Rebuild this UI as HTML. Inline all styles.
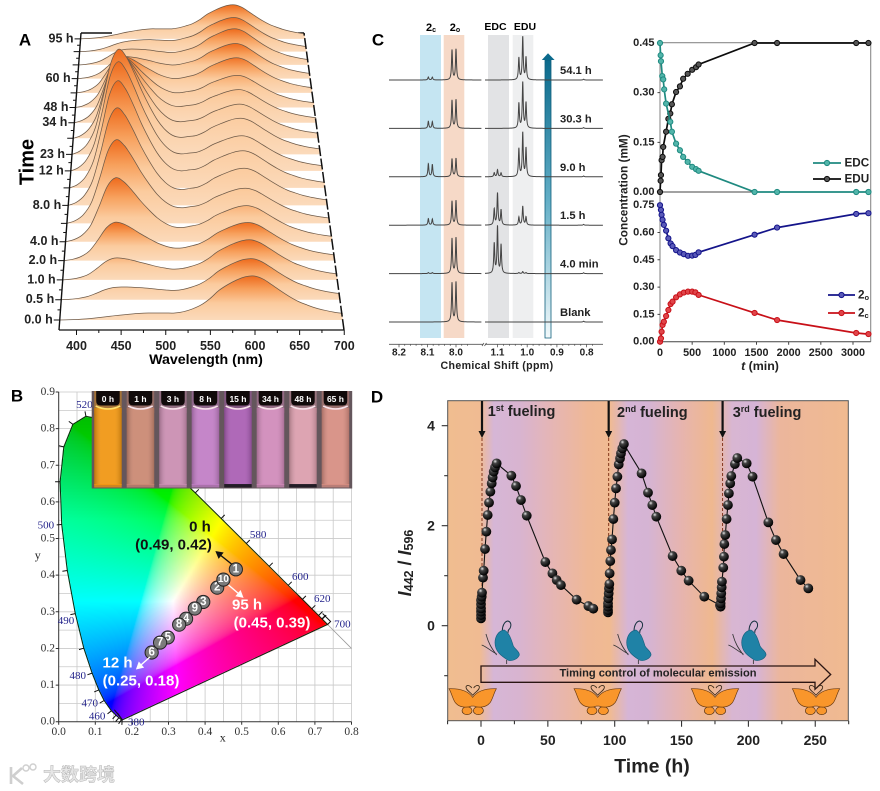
<!DOCTYPE html>
<html><head><meta charset="utf-8"><title>Timing control of molecular emission</title>
<style>
html,body{margin:0;padding:0;background:#fff;width:880px;height:791px;overflow:hidden}
#stage{position:relative;width:880px;height:791px}
svg,canvas{position:absolute;left:0;top:0}
text{font-family:"Liberation Sans","Noto Sans CJK SC",sans-serif;dominant-baseline:central}
.b{font-weight:bold}
.serif{font-family:"Liberation Serif",serif}
</style></head>
<body>
<div id="stage">
<svg id="under" width="880" height="791"></svg>
<canvas id="cie" width="296" height="333" style="left:58px;top:390px"></canvas>
<svg id="top" width="880" height="791">
<defs>
<radialGradient id="ball" cx="35%" cy="30%" r="70%"><stop offset="0" stop-color="#e8e8e8"/><stop offset=".3" stop-color="#444"/><stop offset="1" stop-color="#000"/></radialGradient>
<linearGradient id="curveFill" x1="0" y1="0" x2="0" y2="1"><stop offset="0" stop-color="#ee6a1c"/><stop offset=".3" stop-color="#f7a05c"/><stop offset=".62" stop-color="#fbcb9e"/><stop offset="1" stop-color="#fbdabb"/></linearGradient>
<linearGradient id="vialSheen" x1="0" y1="0" x2="1" y2="0"><stop offset="0" stop-color="#000" stop-opacity=".22"/><stop offset=".25" stop-color="#fff" stop-opacity=".08"/><stop offset=".75" stop-color="#fff" stop-opacity=".08"/><stop offset="1" stop-color="#000" stop-opacity=".18"/></linearGradient>
<linearGradient id="arrowGrad" x1="0" y1="1" x2="0" y2="0"><stop offset="0" stop-color="#f2f9fb"/><stop offset=".5" stop-color="#62aec6"/><stop offset="1" stop-color="#0b6a8c"/></linearGradient>
<linearGradient id="dBack" x1="0" y1="0" x2="1" y2="0">
<stop offset="0" stop-color="#f0bd90"/><stop offset=".08" stop-color="#f0bb92"/><stop offset=".115" stop-color="#d6b6d6"/><stop offset=".18" stop-color="#d8b4d0"/><stop offset=".25" stop-color="#e4b5b8"/><stop offset=".35" stop-color="#efb896"/><stop offset=".405" stop-color="#f0ba92"/><stop offset=".45" stop-color="#d6b5d6"/><stop offset=".5" stop-color="#d5b4d4"/><stop offset=".58" stop-color="#e6b4b0"/><stop offset=".66" stop-color="#efb88f"/><stop offset=".71" stop-color="#d8b6d2"/><stop offset=".77" stop-color="#d6b4d6"/><stop offset=".83" stop-color="#ecb69c"/><stop offset="1" stop-color="#f0ba90"/></linearGradient>
<g id="blue-fly" transform="scale(.3333)">
<path d="M22,32C22,18 28,5 38,3C48,5 50,15 45,25C40,30 38,33 40,38" fill="none" stroke="#16303f" stroke-width="3"/>
<path d="M0,68C0,50 10,32 28,30C42,38 48,55 55,78C62,90 74,95 73,105C68,118 50,125 38,120C20,108 0,95 0,68Z" fill="#1f82a6" stroke="#17617e" stroke-width="2"/>
<path d="M5,102C-10,95 -25,80 -40,75M5,105C-10,85 -20,70 -27,42M35,120V132" fill="none" stroke="#333" stroke-width="2.5"/>
</g>
<g id="orange-fly" transform="scale(.3333)">
<ellipse cx="-17" cy="42" rx="15" ry="12" fill="#f9962b" stroke="#4a2a10" stroke-width="2"/>
<ellipse cx="17" cy="42" rx="15" ry="12" fill="#f9962b" stroke="#4a2a10" stroke-width="2"/>
<path d="M0,2C-14,-18 -42,-25 -71,-24C-62,-8 -58,14 -50,20C-40,32 -18,34 -4,28L4,28C18,34 40,32 50,20C58,14 62,-8 71,-24C42,-25 14,-18 0,2Z" fill="#f9962b" stroke="#6a3a10" stroke-width="2"/>
<path d="M0,-4C-6,-14 -22,-20 -20,-30C-16,-38 -6,-32 -3,-26M0,-4C6,-14 22,-20 20,-30C16,-38 6,-32 3,-26" fill="none" stroke="#3a2a1a" stroke-width="2.5"/>
</g>
</defs>

<g id="panelA">
<text class="b" x="25" y="40" font-size="17" text-anchor="middle">A</text>
<text class="b" x="27.5" y="162" font-size="20" text-anchor="middle" transform="rotate(-90 27.5 162)">Time</text>
<text class="b" x="206" y="360" font-size="14.2" text-anchor="middle">Wavelength (nm)</text>
</g>

<g id="panelB">
<text class="b" x="17" y="396" font-size="17" text-anchor="middle">B</text>
<text class="serif" x="37.7" y="555" font-size="12" text-anchor="middle" fill="#222">y</text>
<text class="serif" x="222.7" y="737.5" font-size="12" text-anchor="middle" fill="#222">x</text>
</g>

<g id="panelC">
<text class="b" x="378" y="40" font-size="17" text-anchor="middle">C</text>
<rect x="420" y="35" width="21" height="303" fill="#c5e5f2"/>
<rect x="443.7" y="35" width="20.6" height="303" fill="#f6d9c7"/>
<rect x="488" y="35" width="21" height="303" fill="#e2e3e5"/>
<rect x="512.7" y="35" width="20.6" height="303" fill="#eeeff0"/>
<text class="b" x="431" y="28" font-size="11" text-anchor="middle">2<tspan font-size="7" dy="2">c</tspan></text>
<text class="b" x="455" y="28" font-size="11" text-anchor="middle">2<tspan font-size="7" dy="2">o</tspan></text>
<text class="b" x="495.5" y="27" font-size="10.5" text-anchor="middle">EDC</text>
<text class="b" x="525" y="27" font-size="10.5" text-anchor="middle">EDU</text>
<path d="M545,60H551V338H545Z" fill="url(#arrowGrad)" stroke="#0f5f7c" stroke-width=".8"/>
<path d="M541.8,60L548,53.3L554.6,60Z" fill="#0b6a8c"/>
<text class="b" x="497" y="366" font-size="10.6" letter-spacing=".35" text-anchor="middle" fill="#222">Chemical Shift (ppm)</text>

<text class="b" x="623.5" y="190" font-size="11.8" text-anchor="middle" transform="rotate(-90 623.5 190)" fill="#222">Concentration (mM)</text>
<text class="b" x="760" y="366" font-size="12.4" text-anchor="middle" fill="#222"><tspan font-style="italic">t</tspan> (min)</text>
<text class="b" x="844.5" y="163" font-size="11.7" fill="#222">EDC</text>
<text class="b" x="844.5" y="179" font-size="11.7" fill="#222">EDU</text>
<text class="b" x="858" y="295" font-size="11.7" fill="#222">2<tspan font-size="7.5" dy="2">o</tspan></text>
<text class="b" x="858" y="313" font-size="11.7" fill="#222">2<tspan font-size="7.5" dy="2">c</tspan></text>
</g>

<g id="panelD">
<text class="b" x="377" y="397" font-size="17" text-anchor="middle">D</text>
<rect x="447.7" y="400.7" width="400.6" height="320" fill="url(#dBack)" stroke="#555" stroke-width="1"/>
<use href="#blue-fly" transform="translate(495,620)"/>
<use href="#blue-fly" transform="translate(626.7,620)"/>
<use href="#blue-fly" transform="translate(741.7,620)"/>
<path d="M481,666H815V659.3L830.7,674.5L815,689.3V682.3H481Z" fill="none" stroke="#2a1512" stroke-width="1.3"/>
<text class="b" x="658" y="673.5" font-size="11.1" text-anchor="middle" fill="#222">Timing control of molecular emission</text>
<use href="#orange-fly" transform="translate(472.7,696.7)"/>
<use href="#orange-fly" transform="translate(597.7,696.7)"/>
<use href="#orange-fly" transform="translate(715,696.7)"/>
<use href="#orange-fly" transform="translate(816,696.7)"/>
<text class="b" x="487.7" y="412" font-size="14.5" fill="#222">1<tspan font-size="9" dy="-4">st</tspan><tspan dy="4"> fueling</tspan></text>
<text class="b" x="617" y="413" font-size="14.5" fill="#222">2<tspan font-size="9" dy="-4">nd</tspan><tspan dy="4"> fueling</tspan></text>
<text class="b" x="732.7" y="413" font-size="14.5" fill="#222">3<tspan font-size="9" dy="-4">rd</tspan><tspan dy="4"> fueling</tspan></text>
<text class="b" x="652" y="766.5" font-size="19.5" text-anchor="middle" fill="#222">Time (h)</text>
<text class="b" x="405" y="563" font-size="18" text-anchor="middle" transform="rotate(-90 405 563)" fill="#222"><tspan font-style="italic">I</tspan><tspan font-size="12.5" dy="4">442</tspan><tspan dy="-4"> / </tspan><tspan font-style="italic">I</tspan><tspan font-size="12.5" dy="4">596</tspan></text>
</g>

<g id="watermark">
<path d="M11,767V784M22,768L13,776L23,784" fill="none" stroke="#cfcfcf" stroke-width="2.6"/>
<circle cx="26" cy="768" r="3" fill="none" stroke="#cfcfcf" stroke-width="1.4"/>
<circle cx="33" cy="767" r="3" fill="none" stroke="#cfcfcf" stroke-width="1.4"/>
<text x="43" y="775" font-size="18" font-weight="bold" fill="#e6e6e6" stroke="#b8b8b8" stroke-width=".5" style='font-family:"Liberation Sans","Noto Sans CJK SC",sans-serif'>大数跨境</text>
</g>
</svg>
</div>

<script>
/* ---------- Panel A data ---------- */
const spectrumWavelengths=[380,390,400,410,420,430,440,450,460,470,480,490,500,510,520,530,540,550,560,570,580,590,600,610,620,630,640,650,660,670,680,690,700];
const blueBandShape=[0,.03,.10,.25,.55,.88,1,.90,.72,.52,.35,.21,.11,.05,.02,.01,0,0,0,0,0,0,0,0,0,0,0,0,0,0,0,0,0];
const orangeBandShape=[0,0,0,0,0,0,0,0,0,0,0,0,0,0,.03,.10,.22,.40,.62,.78,.90,.98,1,.93,.80,.66,.53,.42,.34,.27,.22,.18,.15];
const broadBandShape=[0,.03,.08,.16,.28,.42,.58,.72,.84,.94,1,1,1,1,1,.95,.78,.55,.32,.15,.06,.02,0,0,0,0,0,0,0,0,0,0,0];
const timeRowLabels=['0.0 h','0.5 h','1.0 h','2.0 h','4.0 h','','8.0 h','','12 h','23 h','','34 h','48 h','','60 h','','','95 h'];
const blueBandAmp=[0,7,16,32,57,76,90,99,101,97,78,60,44,29,14,8,3,0];
const orangeBandAmp=[44,41,40,38,36,35,37,37,35,36,34,33,32,35,35,36,34,34];
const broadBandAmp=[7,9,10,11,12,13,13,14,14,14,14,14,13,13,13,12,11,10];
const wavelengthTicks=[400,450,500,550,600,650,700];

/* ---------- Panel B data ---------- */
const locusWavelengths=[380,400,420,440,450,460,470,475,480,485,490,495,500,505,510,515,520,525,530,540,550,560,570,580,590,600,610,620,640,700];
const locusX=[.1741,.1733,.1714,.1644,.1566,.1440,.1241,.1096,.0913,.0687,.0454,.0235,.0082,.0039,.0139,.0389,.0743,.1142,.1547,.2296,.3016,.3731,.4441,.5125,.5752,.6270,.6658,.6915,.7190,.7347];
const locusY=[.0050,.0048,.0051,.0109,.0177,.0297,.0578,.0868,.1327,.2007,.2950,.4127,.5384,.6548,.7502,.8120,.8338,.8262,.8059,.7543,.6923,.6245,.5547,.4866,.4242,.3725,.3340,.3083,.2809,.2653];
const locusLabels=['460','470','480','490','500','520','580','600','620','700','380'];
const cieX=[.484,.433,.395,.348,.298,.254,.277,.329,.372,.450];
const cieY=[.416,.366,.327,.281,.230,.189,.216,.265,.309,.388];
const cieOrder=['1','2','3','4','5','6','7','8','9','10'];
const cieXTicks=[0,.1,.2,.3,.4,.5,.6,.7,.8];
const cieYTicks=[0,.1,.2,.3,.4,.5,.6,.7,.8,.9];
const vialLabels=['0 h','1 h','3 h','8 h','15 h','34 h','48 h','65 h'];
const vialColors=['#f0950f','#c98670','#c98cb0','#c07cc4','#a85cb2','#cf88b8','#da9cab','#d68c80'];

/* ---------- Panel C data ---------- */
const nmrLabels=['54.1 h','30.3 h','9.0 h','1.5 h','4.0 min','Blank'];
const amp2c=[3,7,13,6.5,1,0];
const amp2o=[30,28,18,24,35,39];
const ampEdcOuter=[0,0,4,16,30,0];
const ampEdcCentre=[0,0,7,32,47,0];
const ampEduOuter=[22,25,28,8,1,0];
const ampEduCentre=[43,46,44,19,2,0];
const ppmLeftTicks=[8.2,8.1,8.0];
const ppmRightTicks=[1.1,1.0,0.9,0.8];

const edcTimes=[0,10,15,35,50,65,95,160,185,250,310,360,430,500,560,600,1470,1820,3050,3240];
const edcValues=[.45,.413,.395,.35,.34,.31,.267,.212,.182,.146,.126,.106,.091,.076,.069,.064,0,0,0,0];
const eduTimes=[0,10,15,25,40,50,95,130,160,185,250,310,360,430,500,560,600,1470,1820,3050,3240];
const eduValues=[0,.034,.051,.096,.106,.136,.182,.221,.237,.265,.302,.319,.342,.357,.369,.377,.385,.45,.45,.45,.45];
const openTimes=[0,15,25,40,60,95,130,165,195,250,310,370,435,500,550,600,1470,1820,3050,3240];
const openValues=[.75,.724,.697,.67,.642,.61,.568,.54,.525,.503,.49,.481,.472,.473,.477,.491,.588,.627,.702,.706];
const closedValues=[0,.018,.055,.092,.11,.141,.174,.207,.22,.244,.26,.27,.275,.275,.271,.257,.158,.119,.048,.042];
const timeTicks=[0,500,1000,1500,2000,2500,3000];
const topConcTicks=[0,.15,.3,.45];
const lowConcTicks=[0,.15,.3,.45,.6,.75];

/* ---------- Panel D data ---------- */
const cycle1Times=[0,0,0,0,0,0,.5,.75,1.5,2,3,4,5,6,7,8,8.7,9.5,10.5,11.7,22.7,26.2,29.9,34.2,48.1,53.4,56.6,59.8,71.5,80.3,84];
const cycle1Ratio=[.147,.213,.28,.347,.433,.513,.58,.66,.96,1.1,1.533,1.88,2.213,2.46,2.68,2.847,2.967,3.08,3.167,3.247,3,2.793,2.513,2.2,1.273,1.047,.913,.813,.52,.393,.34];
const cycle2Times=[95,95,95,95,95.2,95.5,95.7,96,96.2,96.7,97.2,98,99,100,101,102,103,104,104.7,105.7,106.9,120.1,124.9,128.1,131.1,143.3,149.8,155.3,167,178.7];
const cycle2Ratio=[.267,.313,.38,.447,.547,.647,.747,.833,1.047,1.293,1.513,1.727,2.133,2.46,2.747,2.98,3.227,3.347,3.447,3.547,3.633,3.047,2.66,2.413,2.18,1.393,1.1,.9,.58,.413];
const cycle3Times=[179.2,179.2,179.5,179.7,180,180.2,181.2,181.7,182,182.7,183.7,184.7,185.4,186.4,187.2,189.9,191.7,198.7,203.1,214.9,220.6,226.3,239,244.8];
const cycle3Ratio=[.38,.447,.547,.647,.767,.88,1.16,1.38,1.633,1.813,2.133,2.413,2.647,2.847,2.993,3.233,3.353,3.247,2.98,2.067,1.713,1.433,.913,.747];
const fuelTimes=[.75,95.5,180.7];
const fuelEndRatio=[.65,.85,.9];
const hourTicks=[0,50,100,150,200,250];
const ratioTicks=[0,2,4];

const NS='http://www.w3.org/2000/svg';
function make(parent,tag,attrs,txt){
  const n=document.createElementNS(NS,tag);
  for(const k in attrs)n.setAttribute(k,attrs[k]);
  if(txt!==undefined)n.textContent=txt;
  parent.appendChild(n);
  return n;
}
function smooth(pts){
  let d='M'+pts[0][0].toFixed(2)+','+pts[0][1].toFixed(2);
  for(let i=0;i<pts.length-1;i++){
    const p0=pts[Math.max(i-1,0)],p1=pts[i],p2=pts[i+1],p3=pts[Math.min(i+2,pts.length-1)];
    d+='C'+(p1[0]+(p2[0]-p0[0])/6).toFixed(2)+','+(p1[1]+(p2[1]-p0[1])/6).toFixed(2)+' '+(p2[0]-(p3[0]-p1[0])/6).toFixed(2)+','+(p2[1]-(p3[1]-p1[1])/6).toFixed(2)+' '+p2[0].toFixed(2)+','+p2[1].toFixed(2);
  }
  return d;
}

/* ---------- Panel A ---------- */
(function(){
  const g=document.getElementById('panelA');
  const rowY=i=>320-20.5*i+.233*i*i;
  const leftX=y=>59+(330-y)*22/297;
  const rightX=y=>344-(330-y)*40/297;
  const axX=w=>76.5+(w-400)*.8925;
  const topLine=make(g,'path',{d:'M81,33H112M298,33H304',stroke:'#111','stroke-width':1.4,fill:'none'});
  
  
  for(let i=timeRowLabels.length-1;i>=0;i--){
    const y=rowY(i),l=leftX(y),r=rightX(y);
    const pts=spectrumWavelengths.map((w,k)=>{
      const h=blueBandShape[k]*blueBandAmp[i]+orangeBandShape[k]*orangeBandAmp[i]+broadBandShape[k]*broadBandAmp[i];
      return [l+(w-380)/320*(r-l),y-h];
    });
    const line=smooth(pts);
    const fill=make(g,'path',{d:line+'L'+r+','+y+'L'+l+','+y+'Z',fill:'url(#curveFill)'});
    
    
    const stroke=make(g,'path',{d:line,fill:'none',stroke:'#6e5a48','stroke-width':.75});
    
    
  }
  const spines=make(g,'path',{d:'M59,330L81,33',stroke:'#111','stroke-width':1.4,fill:'none'});
  
  
  const rs=make(g,'path',{d:'M344,330L304,33',stroke:'#111','stroke-width':1.5,fill:'none','stroke-dasharray':'11 2.5'});
  
  
  const bs=make(g,'path',{d:'M59,330H344',stroke:'#111','stroke-width':1.3,fill:'none'});
  
  
  let tk='';
  for(let w=400;w<=700;w+=25){tk+='M'+axX(w)+',330V'+(330+(w%50?3:5));}
  timeRowLabels.forEach((s,i)=>{const y=rowY(i),x=leftX(y);tk+='M'+x+','+y+'H'+(x-6);
    if(i<17){const y2=(y+rowY(i+1))/2,x2=leftX(y2);tk+='M'+x2+','+y2+'H'+(x2-3);}});
  const t=make(g,'path',{d:tk,stroke:'#111','stroke-width':1,fill:'none'});
  
  
  wavelengthTicks.forEach(w=>{
    const n=make(g,'text',{x:axX(w),y:346,'font-size':12.5,'font-weight':'bold','text-anchor':'middle',fill:'#222'},String(w));
    
    
  });
  timeRowLabels.forEach((s,i)=>{
    if(!s)return;
    const y=rowY(i);
    const n=make(g,'text',{x:leftX(y)-7,y:y-.5,'font-size':12.5,'font-weight':'bold','text-anchor':'end',fill:'#222'},s);
    
    
  });
})();

/* ---------- Panel B ---------- */
const cx=v=>58.7+v*366;
const cy=v=>721.7-v*366.3;
(function(){
  const u=document.getElementById('under');
  let d='';
  for(let i=1;i<=16;i++){d+='M'+cx(i*.05)+','+cy(0)+'V'+cy(.9);}
  for(let i=1;i<=18;i++){d+='M'+cx(0)+','+cy(i*.05)+'H'+cx(.8);}
  const grid=make(u,'path',{d:d,stroke:'#c9c9c9','stroke-width':.8,fill:'none'});
  
  
  const diag=make(u,'path',{d:'M'+cx(.7347)+','+cy(.2653)+'L'+cx(.8)+','+cy(.2),stroke:'#999','stroke-width':.8});
  
  
  const ax=make(u,'path',{d:'M'+cx(0)+','+cy(.9)+'V'+cy(0)+'H'+cx(.8),stroke:'#333','stroke-width':1,fill:'none'});
  
  

  /* gamut */
  const cv=document.getElementById('cie'),c=cv.getContext('2d'),img=c.createImageData(cv.width,cv.height);
  const poly=locusX.map((x,i)=>[x,locusY[i]]);
  const inside=(x,y)=>{let k=false;for(let i=0,j=poly.length-1;i<poly.length;j=i++){
    if((poly[i][1]>y)!==(poly[j][1]>y)&&x<(poly[j][0]-poly[i][0])*(y-poly[i][1])/(poly[j][1]-poly[i][1])+poly[i][0])k=!k;}return k;};
  const gam=v=>v<=.0031308?12.92*v:1.055*Math.pow(v,1/2.4)-.055;
  for(let py=0;py<cv.height;py++)for(let px=0;px<cv.width;px++){
    const X=(px+58.5-58.7)/366,Y=(721.7-(py+390.5))/366.3;
    if(Y<=0||!inside(X,Y))continue;
    const a=X/Y,b=1,e=(1-X-Y)/Y;
    let R=3.2406*a-1.5372*b-.4986*e,G=-.9689*a+1.8758*b+.0415*e,B=.0557*a-.2040*b+1.0570*e;
    R=Math.max(R,0);G=Math.max(G,0);B=Math.max(B,0);
    const m=Math.max(R,G,B);R/=m;G/=m;B/=m;
    const dim=Y>.55?1-(Y-.55)*.9:1;
    const o=(py*cv.width+px)*4;
    img.data[o]=255*gam(R)*dim;img.data[o+1]=255*gam(G)*dim;img.data[o+2]=255*gam(B)*dim;img.data[o+3]=255;
  }
  c.putImageData(img,0,0);

  const g=document.getElementById('panelB');
  const outline=poly.map((p,i)=>(i?'L':'M')+cx(p[0]).toFixed(1)+','+cy(p[1]).toFixed(1)).join('')+'Z';
  const ol=make(g,'path',{d:outline,fill:'none',stroke:'#0c2a0c','stroke-width':1});
  
  
  let t='';
  locusWavelengths.forEach((w,i)=>{
    if(i===0||i===locusWavelengths.length-1)return;
    const a=[cx(locusX[i-1]),cy(locusY[i-1])],b=[cx(locusX[i+1]),cy(locusY[i+1])],p=[cx(locusX[i]),cy(locusY[i])];
    let nx=b[1]-a[1],ny=a[0]-b[0];const L=Math.hypot(nx,ny)||1;nx/=L;ny/=L;
    t+='M'+p[0].toFixed(1)+','+p[1].toFixed(1)+'l'+(nx*5).toFixed(1)+','+(ny*5).toFixed(1);
  });
  t+='M'+cx(.1741)+','+cy(.005)+'l-8,-10M'+cx(.1741)+','+cy(.005)+'l-5,-7M'+cx(.7347)+','+cy(.2653)+'l3,-3l-8,-8M'+cx(.72)+','+cy(.28)+'l4,-4M'+cx(.71)+','+cy(.29)+'l4,-4';
  const ticks=make(g,'path',{d:t,stroke:'#111','stroke-width':1,fill:'none'});
  
  
  let at='';
  cieXTicks.forEach(v=>{at+='M'+cx(v)+','+cy(0)+'v3';});
  cieYTicks.forEach(v=>{at+='M'+cx(0)+','+cy(v)+'h-3';});
  const aticks=make(g,'path',{d:at,stroke:'#333','stroke-width':1,fill:'none'});
  
  
  cieXTicks.forEach(v=>{
    const n=make(g,'text',{x:cx(v),y:732,'font-size':11.5,'text-anchor':'middle',fill:'#333',class:'serif'},v.toFixed(1));
    
    
  });
  cieYTicks.forEach(v=>{
    const n=make(g,'text',{x:55,y:cy(v),'font-size':11.5,'text-anchor':'end',fill:'#333',class:'serif'},v.toFixed(1));
    
    
  });
  const locusLabelX=[.105,.085,.052,.02,-.035,.07,.545,.66,.72,.775,.212];
  const locusLabelY=[.014,.05,.125,.275,.535,.865,.51,.395,.335,.265,-.002];
  locusLabels.forEach((s,i)=>{
    const n=make(g,'text',{x:cx(locusLabelX[i]),y:cy(locusLabelY[i]),'font-size':11,'text-anchor':'middle',fill:'#23238b',class:'serif'},s);
    
    
  });

  /* photo strip */
  const vw=32.5;
  vialLabels.forEach((s,i)=>{
    const x=91.7+i*vw;
    const base=make(g,'rect',{x:x,y:391,width:vw+.5,height:97.5,fill:'#64565c'});
    
    
    const flank=make(g,'rect',{x:x+2.5,y:391,width:vw-5,height:22,fill:vialColors[i],opacity:.45});
    
    
    const liquid=make(g,'rect',{x:x+2.5,y:408,width:vw-5,height:77,fill:vialColors[i]});
    
    
    const sheen=make(g,'rect',{x:x+2.5,y:408,width:vw-5,height:77,fill:'url(#vialSheen)'});
    
    
    const foot=make(g,'rect',{x:x+2.5,y:484,width:vw-5,height:3.5,fill:(i===4||i===6)?'#1c1620':vialColors[i],opacity:(i===4||i===6)?.9:.75});
    
    
    const cap=make(g,'path',{d:'M'+(x+4.5)+',391H'+(x+vw-4.5)+'V401Q'+(x+vw-4.5)+',405.5 '+(x+vw-9)+',405.5H'+(x+9)+'Q'+(x+4.5)+',405.5 '+(x+4.5)+',401Z',fill:'#100a0a'});
    
    
    const men=make(g,'path',{d:'M'+(x+4)+',406Q'+(x+vw/2)+',412 '+(x+vw-4)+',406',fill:'none',stroke:i===0?'#ffe06a':'#f6e0e8','stroke-width':1.6});
    
    
    const n=make(g,'text',{x:x+vw/2,y:399,'font-size':8.5,'font-weight':'bold','text-anchor':'middle',fill:'#fff'},s);
    
    
  });

  /* CIE points and arrows */
  const arr=(x1,y1,x2,y2,col,nm)=>{
    const a=Math.atan2(y2-y1,x2-x1),h=6;
    const p=make(g,'path',{d:'M'+x1+','+y1+'L'+x2+','+y2+'M'+x2+','+y2+'L'+(x2-h*Math.cos(a-.5))+','+(y2-h*Math.sin(a-.5))+'L'+(x2-h*Math.cos(a+.5))+','+(y2-h*Math.sin(a+.5))+'Z',stroke:col,fill:col,'stroke-width':1.4});
    
    
  };
  cieOrder.forEach((s,i)=>{
    const c1=make(g,'circle',{cx:cx(cieX[i]),cy:cy(cieY[i]),r:6.6,fill:'#7b7b7b',stroke:'#222','stroke-width':1});
    
    
    const n=make(g,'text',{x:cx(cieX[i]),y:cy(cieY[i]),'font-size':s.length>1?10:11.5,'font-weight':'bold','text-anchor':'middle',fill:'#fff'},s);
    
    
  });
  arr(231.5,564,216.5,552,'#111','arrow-0h');
  arr(228.5,585,242.5,597,'#fff','arrow-95h');
  arr(150,657,137,668.5,'#fff','arrow-12h');
  const labels=[['0 h',200,527,'#111',15],['(0.49, 0.42)',173.5,545,'#111',15],['95 h',247,605,'#fff',15],['(0.45, 0.39)',272,623,'#fff',15],['12 h',117.5,663,'#fff',15],['(0.25, 0.18)',141,681,'#fff',15]];
  labels.forEach(l=>{
    const n=make(g,'text',{x:l[1],y:l[2],'font-size':l[4],'font-weight':'bold','text-anchor':'middle',fill:l[3]},l[0]);
    
    
  });
})();

/* ---------- Panel C ---------- */
(function(){
  const g=document.getElementById('panelC');
  const lx=p=>399+(8.2-p)*285;
  const rx=p=>497.5+(1.1-p)*297;
  const row=i=>80+i*48.4;
  const peaks=(x,list)=>list.reduce((s,k)=>s+k[1]/(1+Math.pow((x-k[0])/.58,2)),0);
  nmrLabels.forEach((s,i)=>{
    const y=row(i);
    const leftPeaks=[[lx(8.097),amp2c[i]],[lx(8.083),amp2c[i]*.95],[lx(8.014),amp2o[i]],[lx(8.0),amp2o[i]*1.03]];
    const rightPeaks=[[rx(1.111),ampEdcOuter[i]],[rx(1.1),ampEdcCentre[i]],[rx(1.088),ampEdcOuter[i]*.95],[rx(1.028),ampEduOuter[i]],[rx(1.015),ampEduCentre[i]],[rx(1.004),ampEduOuter[i]*1.02],[rx(.81),.8]];
    let d='';
    for(let x=389;x<=481.5;x+=.15)d+=(x===389?'M':'L')+x.toFixed(2)+','+(y-peaks(x,leftPeaks)).toFixed(2);
    for(let x=485;x<=603;x+=.15)d+=(x===485?'M':'L')+x.toFixed(2)+','+(y-peaks(x,rightPeaks)).toFixed(2);
    const p=make(g,'path',{d:d,fill:'none',stroke:'#444','stroke-width':1});
    
    
    const n=make(g,'text',{x:560,y:y-9,'font-size':11.2,'font-weight':'bold',fill:'#222'},s);
    
    
  });
  let ax='M389,344.3H483M485,344.3H603M482,346l2,-3M484.5,346l2,-3';
  for(let p=8.2;p>=7.95;p-=.02)ax+='M'+lx(p).toFixed(1)+',344.3v'+(Math.abs(p*10-Math.round(p*10))<.01?3:1.5);
  for(let p=1.1;p>=.76;p-=.02)ax+='M'+rx(p).toFixed(1)+',344.3v'+(Math.abs(p*10-Math.round(p*10))<.01?3:1.5);
  const axis=make(g,'path',{d:ax,stroke:'#555','stroke-width':.8,fill:'none'});
  
  
  ppmLeftTicks.forEach(p=>{
    const n=make(g,'text',{x:lx(p),y:353,'font-size':10,'font-weight':'bold','text-anchor':'middle',fill:'#222'},p.toFixed(1));
    
    
  });
  ppmRightTicks.forEach(p=>{
    const n=make(g,'text',{x:rx(p),y:353,'font-size':10,'font-weight':'bold','text-anchor':'middle',fill:'#222'},p.toFixed(1));
    
    
  });

  /* kinetics */
  const tx=t=>660+t*.06433;
  const ty=v=>192-v*331.1;
  const ly=v=>341.7-v*182;
  const frame=make(g,'path',{d:'M660,192V42.7H870.7V341.7M660,192V341.7',stroke:'#8c8c8c','stroke-width':1.1,fill:'none'});
  
  
  const bot=make(g,'path',{d:'M660,192H870.7M660,341.7H870.7',stroke:'#444','stroke-width':1,fill:'none'});
  
  
  let tk='';
  timeTicks.forEach(t=>{tk+='M'+tx(t)+',341.7v3';});
  topConcTicks.forEach(v=>{tk+='M660,'+ty(v)+'h-2.5';});
  lowConcTicks.forEach(v=>{tk+='M660,'+ly(v)+'h-2.5';});
  const kt=make(g,'path',{d:tk,stroke:'#444','stroke-width':1,fill:'none'});
  
  
  timeTicks.forEach(t=>{
    const n=make(g,'text',{x:tx(t),y:353,'font-size':10.8,'font-weight':'bold','text-anchor':'middle',fill:'#222'},String(t));
    
    
  });
  topConcTicks.forEach(v=>{
    const n=make(g,'text',{x:654.5,y:ty(v),'font-size':11,'font-weight':'bold','text-anchor':'end',fill:'#222'},v.toFixed(2));
    
    
  });
  lowConcTicks.forEach(v=>{
    const n=make(g,'text',{x:654.5,y:ly(v),'font-size':11,'font-weight':'bold','text-anchor':'end',fill:'#222'},v.toFixed(2));
    
    
  });
  const drawSeries=(ts,vs,yf,stroke,fill,nm)=>{
    const line=make(g,'polyline',{points:ts.map((t,i)=>tx(t).toFixed(1)+','+yf(vs[i]).toFixed(1)).join(' '),fill:'none',stroke:stroke,'stroke-width':1.7});
    
    
    ts.forEach((t,i)=>{
      const c=make(g,'circle',{cx:tx(t),cy:yf(vs[i]),r:2.6,fill:fill,stroke:stroke,'stroke-width':1});
      
      
    });
  };
  drawSeries(eduTimes,eduValues,ty,'#0c0c0c','#555','edu');
  drawSeries(edcTimes,edcValues,ty,'#1f8a80','#52b5aa','edc');
  drawSeries(openTimes,openValues,ly,'#14148a','#5a5ab8','open-form');
  drawSeries(openTimes,closedValues,ly,'#c81018','#e0454a','closed-form');
  const legendKeys=[[813,841,163,'#1f8a80','#52b5aa'],[813,841,179,'#0c0c0c','#555'],[828,855,295,'#14148a','#5a5ab8'],[828,855,313,'#c81018','#e0454a']];
  legendKeys.forEach(k=>{
    const l=make(g,'path',{d:'M'+k[0]+','+k[2]+'H'+k[1],stroke:k[3],'stroke-width':1.7});
    
    
    const c=make(g,'circle',{cx:(k[0]+k[1])/2,cy:k[2],r:2.6,fill:k[4],stroke:k[3],'stroke-width':1});
    
    
  });
})();

/* ---------- Panel D ---------- */
(function(){
  const g=document.getElementById('panelD');
  const hx=t=>481+t*1.337;
  const ry=v=>625.7-v*50;
  let tk='';
  for(let t=-25;t<=275;t+=25)tk+='M'+hx(t)+',720.7v'+(t%50?3.5:6);
  for(let v=-1;v<=4;v++)tk+='M447.7,'+ry(v)+'h-'+(v%2?3.5:6);
  const ticks=make(g,'path',{d:tk,stroke:'#333','stroke-width':1.1,fill:'none'});
  
  
  hourTicks.forEach(t=>{
    const n=make(g,'text',{x:hx(t),y:740,'font-size':14,'font-weight':'bold','text-anchor':'middle',fill:'#222'},String(t));
    
    
  });
  ratioTicks.forEach(v=>{
    const n=make(g,'text',{x:431,y:ry(v),'font-size':14,'font-weight':'bold','text-anchor':'middle',fill:'#222'},String(v));
    
    
  });
  fuelTimes.forEach((t,i)=>{
    const x=hx(t);
    const dash=make(g,'path',{d:'M'+x+',438V'+ry(fuelEndRatio[i]),stroke:'#7a2a10','stroke-width':.9,'stroke-dasharray':'3 2',fill:'none'});
    
    
    const arrow=make(g,'path',{d:'M'+(x-1.1)+',401H'+(x+1.1)+'V431H'+(x+3.5)+'L'+x+',438L'+(x-3.5)+',431H'+(x-1.1)+'Z',fill:'#111'});
    
    
  });
  const cycles=[[cycle1Times,cycle1Ratio],[cycle2Times,cycle2Ratio],[cycle3Times,cycle3Ratio]];
  cycles.forEach((cyc,ci)=>{
    const line=make(g,'polyline',{points:cyc[0].map((t,i)=>hx(t).toFixed(1)+','+ry(cyc[1][i]).toFixed(1)).join(' '),fill:'none',stroke:'#111','stroke-width':1.1});
    
    
    cyc[0].forEach((t,i)=>{
      const c=make(g,'circle',{cx:hx(t),cy:ry(cyc[1][i]),r:4.9,fill:'url(#ball)'});
      
      
    });
  });
})();
</script>
</body></html>
